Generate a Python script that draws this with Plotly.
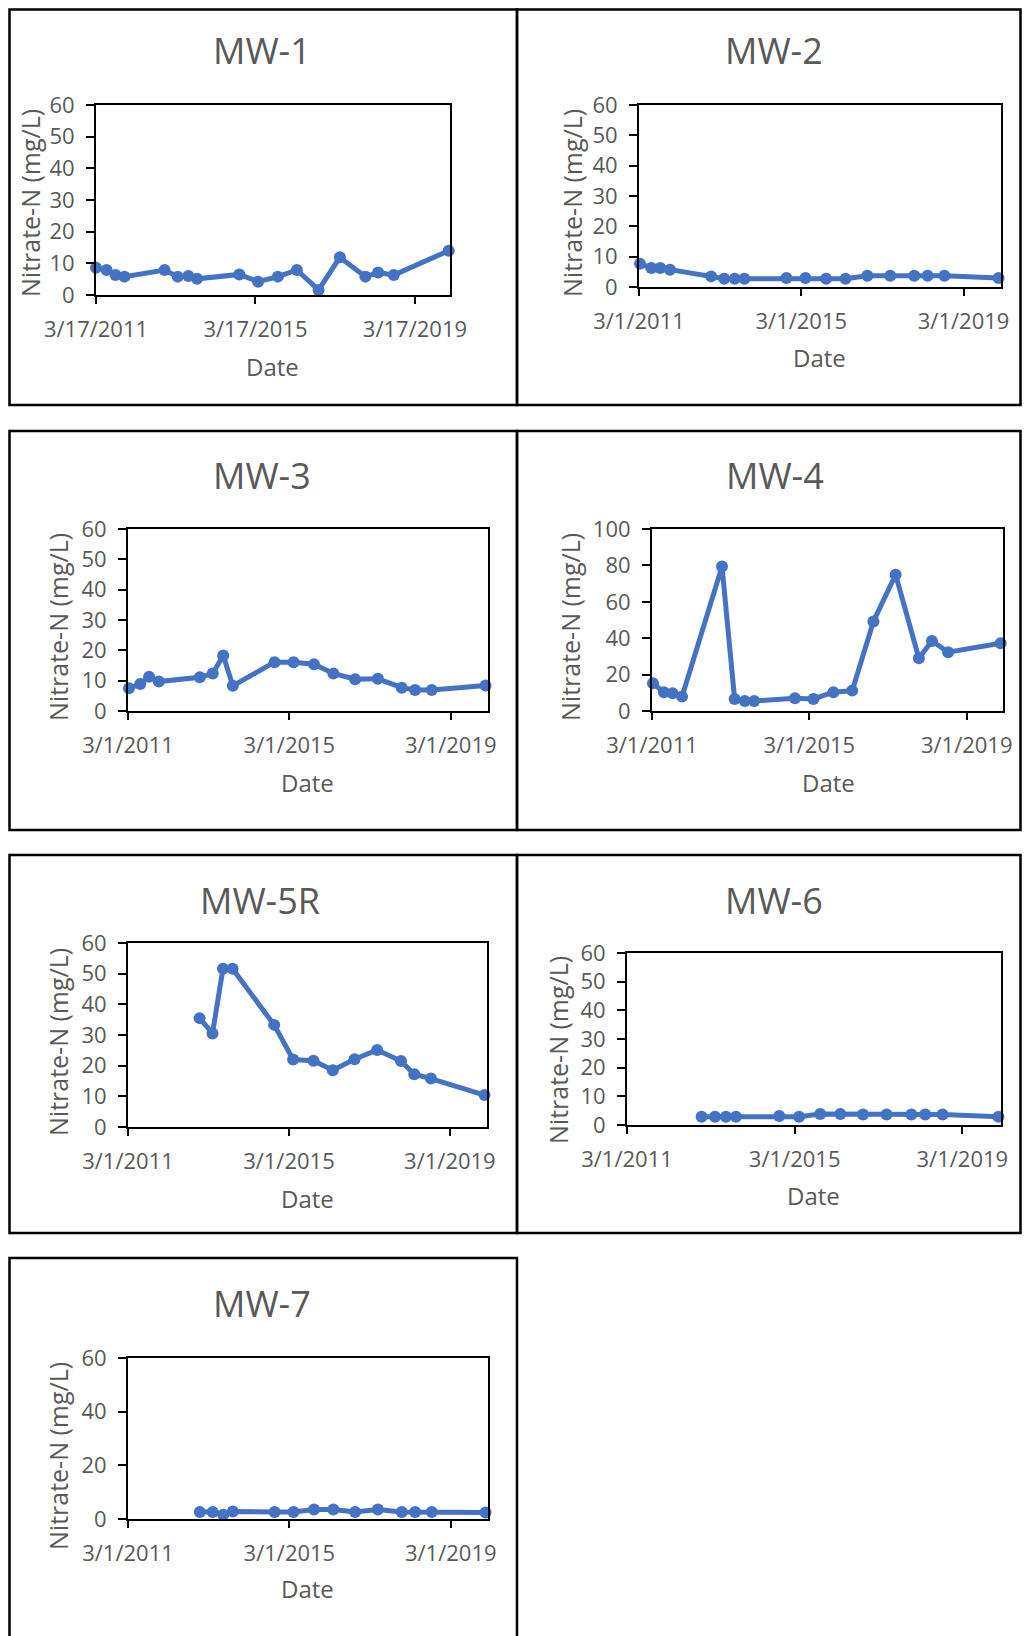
import plotly.graph_objects as go

# ---------------- data ----------------
dates_mw1 = ["2011-03-17", "2011-06-22", "2011-09-12", "2011-12-03", "2012-12-05",
             "2013-04-04", "2013-07-10", "2013-09-28", "2014-10-20", "2015-04-10",
             "2015-10-08", "2016-03-30", "2016-10-15", "2017-04-28", "2017-12-18",
             "2018-04-14", "2018-09-04", "2020-01-20"]
dates_full = ["2011-03-10", "2011-06-20", "2011-09-08", "2011-12-05", "2012-12-10",
              "2013-04-06", "2013-07-10", "2013-10-05", "2014-10-18", "2015-04-08",
              "2015-10-10", "2016-04-02", "2016-10-16", "2017-05-10", "2017-12-12",
              "2018-04-12", "2018-09-10", "2020-01-10"]
dates_late = ["2012-12-10", "2013-04-06", "2013-07-10", "2013-10-05", "2014-10-18",
              "2015-04-08", "2015-10-10", "2016-04-02", "2016-10-16", "2017-05-10",
              "2017-12-12", "2018-04-12", "2018-09-10", "2020-01-10"]

mw1_vals = [8.6, 7.9, 6.3, 5.8, 7.9, 5.8, 6.0, 5.1, 6.5, 4.2, 5.8, 7.9, 1.6, 11.9, 5.8, 7.1, 6.3, 14.0]
mw2_vals = [7.7, 6.3, 6.3, 5.7, 3.5, 2.7, 2.7, 2.7, 3.0, 3.0, 2.7, 2.7, 3.7, 3.7, 3.7, 3.7, 3.7, 3.0]
mw3_vals = [7.5, 8.9, 11.3, 9.7, 11.1, 12.4, 18.3, 8.3, 16.1, 16.1, 15.4, 12.4, 10.5, 10.6, 7.7, 6.9, 6.9, 8.4]
mw4_vals = [15.2, 10.3, 9.7, 7.9, 79.4, 6.6, 5.5, 5.5, 7.0, 6.6, 10.3, 11.2, 49.2, 74.9, 29.0, 38.5, 32.3, 37.2]
mw5r_vals = [35.5, 30.5, 51.6, 51.6, 33.3, 22.0, 21.6, 18.5, 22.1, 25.1, 21.5, 17.2, 15.8, 10.4]
mw6_vals = [2.9, 2.9, 2.9, 2.9, 3.1, 2.9, 3.8, 3.8, 3.7, 3.7, 3.7, 3.7, 3.7, 2.9]
mw7_vals = [2.6, 2.6, 1.6, 2.8, 2.6, 2.6, 3.5, 3.5, 2.6, 3.5, 2.6, 2.6, 2.6, 2.4]

tickvals_mw1 = ["2011-03-17", "2015-03-17", "2019-03-17"]
ticktext_mw1 = ["3/17/2011", "3/17/2015", "3/17/2019"]
tickvals_std = ["2011-03-01", "2015-03-01", "2019-03-01"]
ticktext_std = ["3/1/2011", "3/1/2015", "3/1/2019"]

well_names = ["MW-1", "MW-2", "MW-3", "MW-4", "MW-5R", "MW-6", "MW-7"]
y_title = "Nitrate-N (mg/L)"
x_title = "Date"

# ---------------- layout geometry (page pixels) ----------------
PAGE_W, PAGE_H = 1030, 1636
OFF = 8                      # default body margin of the html page
W, H = PAGE_W - 2 * OFF, PAGE_H - OFF
BLUE = "#4472C4"
GREY = "#595959"
FONT = "Open Sans"


def px(x):
    return (x - OFF) / W


def py(y):
    return 1 - (y - OFF) / H


panels = [
    dict(dates=dates_mw1, vals=mw1_vals, tv=tickvals_mw1, tt=ticktext_mw1, xmin="2011-03-17",
         box=(96, 450, 105, 295), yr=(0, 60), dt=10, title=(262, 50), yt=(30, 203), xt=(272, 366),
         frame=(7, 517, 6, 405)),
    dict(dates=dates_full, vals=mw2_vals, tv=tickvals_std, tt=ticktext_std, xmin="2011-03-01",
         box=(639, 1001, 105, 287), yr=(0, 60), dt=10, title=(774, 50), yt=(572, 203), xt=(819, 358),
         frame=(517, 1028, 6, 405)),
    dict(dates=dates_full, vals=mw3_vals, tv=tickvals_std, tt=ticktext_std, xmin="2011-03-01",
         box=(128, 488, 529, 711), yr=(0, 60), dt=10, title=(262, 475), yt=(58, 627), xt=(307, 782),
         frame=(7, 517, 431, 830)),
    dict(dates=dates_full, vals=mw4_vals, tv=tickvals_std, tt=ticktext_std, xmin="2011-03-01",
         box=(652, 1003, 529, 711), yr=(0, 100), dt=20, title=(775, 475), yt=(570, 627), xt=(828, 782),
         frame=(517, 1028, 431, 830)),
    dict(dates=dates_late, vals=mw5r_vals, tv=tickvals_std, tt=ticktext_std, xmin="2011-03-01",
         box=(128, 487, 943, 1127), yr=(0, 60), dt=10, title=(260, 900), yt=(58, 1042), xt=(307, 1198),
         frame=(7, 517, 855, 1233)),
    dict(dates=dates_late, vals=mw6_vals, tv=tickvals_std, tt=ticktext_std, xmin="2011-03-01",
         box=(627, 1001, 953, 1125), yr=(0, 60), dt=10, title=(774, 900), yt=(558, 1050), xt=(813, 1195),
         frame=(517, 1028, 855, 1233)),
    dict(dates=dates_late, vals=mw7_vals, tv=tickvals_std, tt=ticktext_std, xmin="2011-03-01",
         box=(128, 488, 1358, 1519), yr=(0, 60), dt=20, title=(262, 1303), yt=(58, 1456), xt=(307, 1588),
         frame=(7, 517, 1258, 1660)),
]
XMAX = "2020-02-01"

fig = go.Figure()
layout = dict(
    template="none",
    width=W, height=H, margin=dict(l=0, r=0, t=0, b=0, pad=0, autoexpand=False),
    paper_bgcolor="white", plot_bgcolor="white", showlegend=False,
    font=dict(family=FONT, color=GREY),
)
annotations = []
shapes = []

n = len(panels)
for i, p in enumerate(panels):
    k = i + 1
    kx = n + i + 1  # overlay axis index
    xa, ya = f"x{k}", f"y{k}"
    x0, x1, y0, y1 = p["box"]
    dom_x = [px(x0), px(x1)]
    dom_y = [py(y1), py(y0)]

    fig.add_trace(go.Scatter(
        x=p["dates"], y=p["vals"], xaxis=xa, yaxis=ya, mode="lines+markers",
        line=dict(color=BLUE, width=5), marker=dict(color=BLUE, size=12),
        cliponaxis=False, hoverinfo="x+y",
    ))

    common_x = dict(type="date", range=[p["xmin"], XMAX], tickmode="array",
                    tickvals=p["tv"], showgrid=False, zeroline=False, automargin=False)
    common_y = dict(range=list(p["yr"]), tick0=0, dtick=p["dt"], tickmode="linear",
                    showgrid=False, zeroline=False, automargin=False)

    layout[f"xaxis{k}"] = dict(
        **common_x, domain=dom_x, anchor=ya, ticktext=p["tt"],
        showline=True, linecolor="black", linewidth=2, mirror=True,
        ticks="outside", ticklen=7, tickwidth=2, tickcolor="black",
        tickfont=dict(family=FONT, size=22, color=GREY), ticklabelstandoff=7,
    )
    layout[f"yaxis{k}"] = dict(
        **common_y, domain=dom_y, anchor=xa,
        showline=True, linecolor="black", linewidth=2, mirror=True,
        ticks="outside", ticklen=8, tickwidth=2, tickcolor="black",
        tickfont=dict(family=FONT, size=22, color=GREY), ticklabelstandoff=7,
    )
    # overlay axes to draw the inner half of the crossing tick marks
    layout[f"xaxis{kx}"] = dict(
        **common_x, domain=dom_x, anchor=ya, overlaying=xa, side="bottom",
        showline=False, showticklabels=False,
        ticks="inside", ticklen=7, tickwidth=2, tickcolor="black",
    )
    layout[f"yaxis{kx}"] = dict(
        **common_y, domain=dom_y, anchor=xa, overlaying=ya, side="left",
        showline=False, showticklabels=False,
        ticks="inside", ticklen=7, tickwidth=2, tickcolor="black",
    )

    tx, ty = p["title"]
    annotations.append(dict(text=well_names[i], x=px(tx), y=py(ty), xref="paper", yref="paper",
                            showarrow=False, xanchor="center", yanchor="middle",
                            font=dict(family=FONT, size=36, color=GREY)))
    ax_, ay_ = p["yt"]
    annotations.append(dict(text=y_title, x=px(ax_), y=py(ay_), xref="paper", yref="paper",
                            showarrow=False, xanchor="center", yanchor="middle", textangle=-90,
                            font=dict(family=FONT, size=25, color=GREY)))
    bx, by = p["xt"]
    annotations.append(dict(text=x_title, x=px(bx), y=py(by), xref="paper", yref="paper",
                            showarrow=False, xanchor="center", yanchor="middle",
                            font=dict(family=FONT, size=24, color=GREY)))

    fx0, fx1, fy0, fy1 = p["frame"]
    fx0 = max(fx0, OFF + 1.5)
    fy0 = max(fy0, OFF + 1.5)
    fx1 = min(fx1, OFF + W - 1.5)
    shapes.append(dict(type="rect", xref="paper", yref="paper",
                       x0=px(fx0), x1=px(fx1), y0=py(fy1), y1=py(fy0),
                       line=dict(color="black", width=2.5), fillcolor="rgba(0,0,0,0)", layer="above"))

layout["annotations"] = annotations
layout["shapes"] = shapes
fig.update_layout(**layout)
fig.write_html("out.html")
